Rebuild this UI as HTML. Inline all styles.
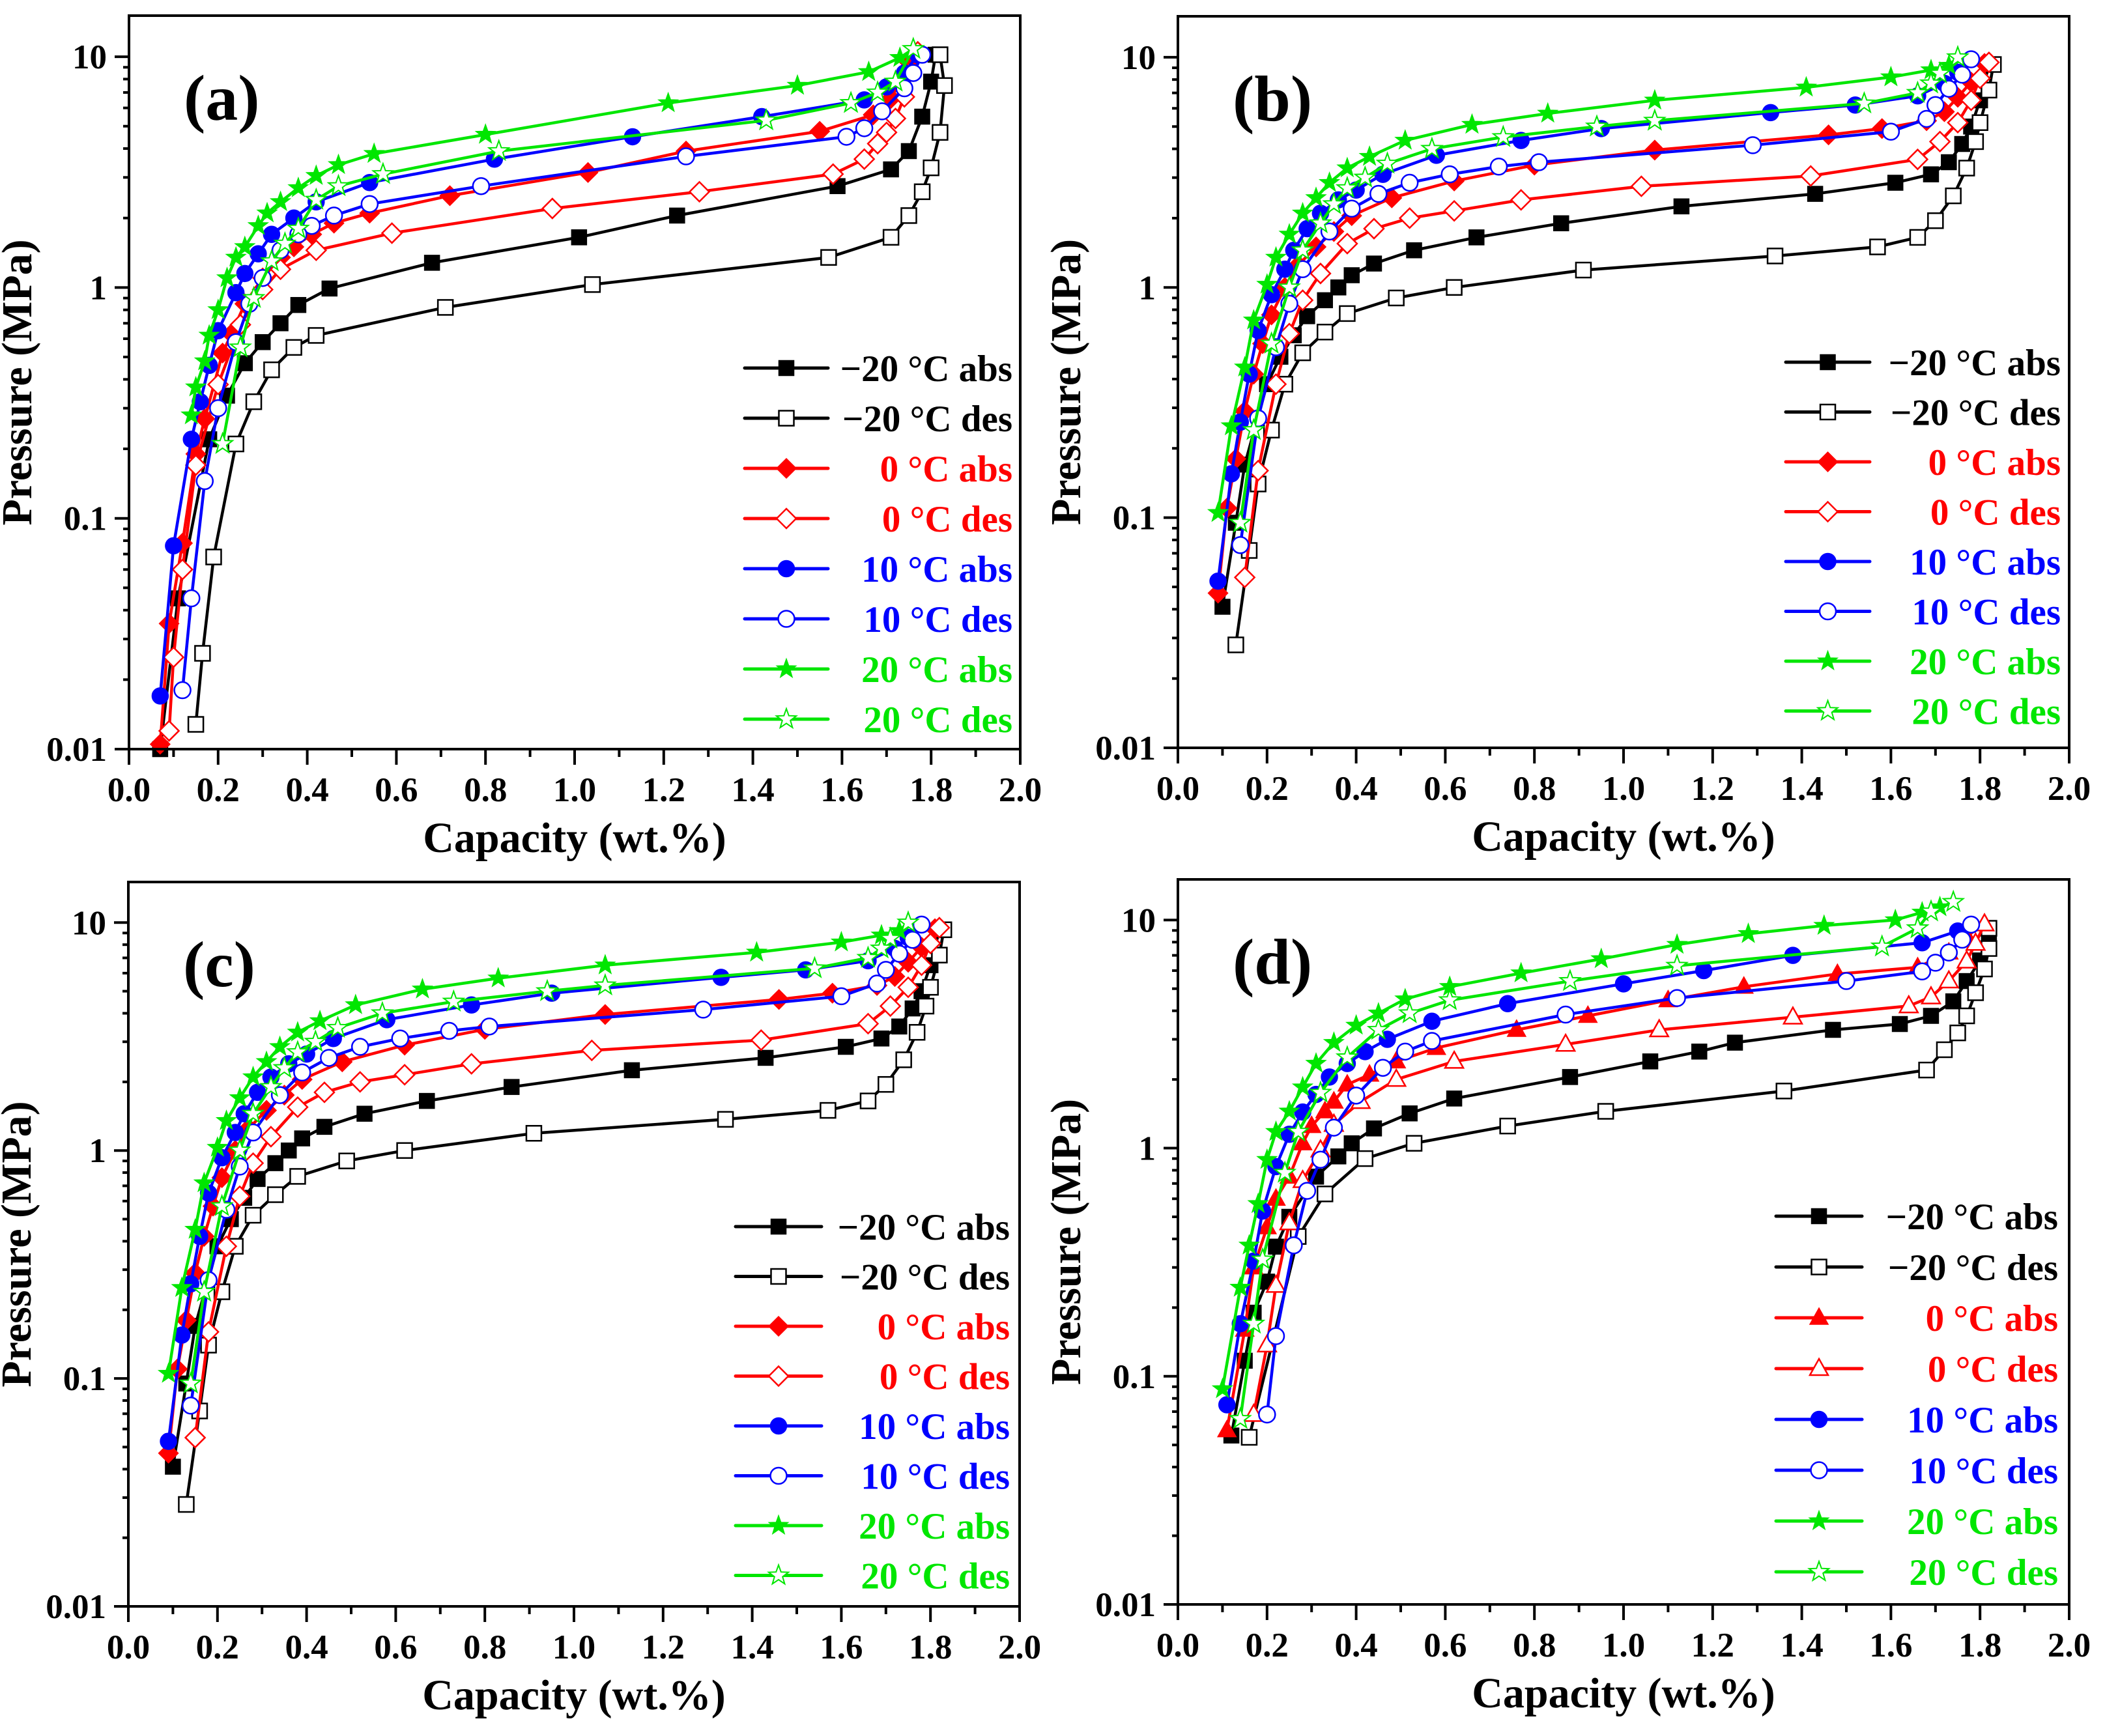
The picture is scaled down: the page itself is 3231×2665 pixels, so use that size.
<!DOCTYPE html>
<html><head><meta charset="utf-8"><style>
html,body{margin:0;padding:0;background:#fff;}
svg{display:block;font-family:"Liberation Serif","DejaVu Serif",serif;font-weight:bold;}
</style></head><body>
<svg id="fig" width="3231" height="2665" viewBox="0 0 3231 2665" xmlns="http://www.w3.org/2000/svg"></svg>
<script>
const xTicks=["0.0","0.2","0.4","0.6","0.8","1.0","1.2","1.4","1.6","1.8","2.0"];
const yTicks=["0.01","0.1","1","10"];
const seriesLabels=["\u221220 \u00b0C abs","\u221220 \u00b0C des","0 \u00b0C abs","0 \u00b0C des","10 \u00b0C abs","10 \u00b0C des","20 \u00b0C abs","20 \u00b0C des"];

// Panel (a)
const a_m20abs_x=[0.07,0.11,0.18,0.22,0.26,0.30,0.34,0.38,0.45,0.68,1.01,1.23,1.59,1.71,1.75,1.78,1.80,1.81];
const a_m20abs_p=[0.01,0.045,0.22,0.34,0.47,0.58,0.70,0.84,0.99,1.28,1.65,2.05,2.75,3.25,3.9,5.5,7.8,10.2];
const a_m20des_x=[1.82,1.83,1.82,1.80,1.78,1.75,1.71,1.57,1.04,0.71,0.42,0.37,0.32,0.28,0.24,0.19,0.165,0.15];
const a_m20des_p=[10.2,7.5,4.7,3.3,2.6,2.05,1.65,1.35,1.03,0.82,0.62,0.55,0.44,0.32,0.21,0.068,0.026,0.0128];
const a_0abs_x=[0.07,0.09,0.12,0.15,0.17,0.21,0.23,0.26,0.30,0.34,0.37,0.41,0.46,0.54,0.72,1.03,1.25,1.55,1.67,1.71,1.73,1.75,1.77];
const a_0abs_p=[0.0105,0.035,0.078,0.19,0.27,0.52,0.63,0.85,1.1,1.35,1.5,1.7,1.9,2.1,2.5,3.15,3.9,4.75,5.6,6.6,7.8,9.5,10.5];
const a_0des_x=[1.77,1.75,1.74,1.72,1.70,1.68,1.65,1.58,1.28,0.95,0.59,0.42,0.34,0.30,0.25,0.20,0.15,0.12,0.10,0.09];
const a_0des_p=[10.5,8.5,6.7,5.4,4.7,4.2,3.6,3.1,2.6,2.2,1.72,1.45,1.2,0.98,0.69,0.38,0.17,0.06,0.025,0.012];
const a_10abs_x=[0.07,0.10,0.14,0.16,0.18,0.20,0.24,0.26,0.29,0.32,0.37,0.42,0.54,0.82,1.13,1.42,1.65,1.70,1.74,1.77];
const a_10abs_p=[0.017,0.076,0.22,0.32,0.46,0.65,0.95,1.15,1.4,1.7,2.0,2.35,2.85,3.6,4.5,5.5,6.5,7.4,8.5,10.2];
const a_10des_x=[1.78,1.76,1.74,1.69,1.65,1.61,1.25,0.79,0.54,0.46,0.41,0.38,0.34,0.30,0.27,0.24,0.20,0.17,0.14,0.12];
const a_10des_p=[10.2,8.5,7.3,5.8,4.9,4.5,3.7,2.75,2.3,2.05,1.85,1.7,1.45,1.1,0.85,0.58,0.3,0.145,0.045,0.018];
const a_20abs_x=[0.14,0.15,0.17,0.18,0.20,0.22,0.24,0.26,0.29,0.31,0.34,0.38,0.42,0.47,0.55,0.80,1.21,1.50,1.66,1.73,1.76];
const a_20abs_p=[0.28,0.37,0.48,0.62,0.8,1.1,1.35,1.5,1.85,2.1,2.35,2.7,3.05,3.4,3.8,4.6,6.3,7.5,8.6,9.9,10.8];
const a_20des_x=[1.76,1.72,1.68,1.62,1.43,0.83,0.57,0.47,0.42,0.38,0.35,0.32,0.28,0.25,0.21];
const a_20des_p=[10.8,7.8,7.0,6.3,5.3,3.9,3.1,2.75,2.4,1.8,1.55,1.3,0.9,0.55,0.21];

// Panel (b)
const b_m20abs_x=[0.10,0.13,0.15,0.20,0.23,0.26,0.29,0.33,0.36,0.39,0.44,0.53,0.67,0.86,1.13,1.43,1.61,1.69,1.73,1.76,1.78,1.80,1.82];
const b_m20abs_p=[0.041,0.095,0.17,0.38,0.5,0.62,0.75,0.88,1.0,1.13,1.27,1.45,1.65,1.9,2.25,2.55,2.85,3.1,3.5,4.2,5.0,6.5,9.3];
const b_m20des_x=[1.83,1.82,1.80,1.79,1.77,1.74,1.70,1.66,1.57,1.34,0.91,0.62,0.49,0.38,0.33,0.28,0.24,0.21,0.18,0.16,0.13];
const b_m20des_p=[9.3,7.2,5.2,4.3,3.3,2.5,1.95,1.65,1.5,1.37,1.19,1.0,0.9,0.77,0.64,0.52,0.38,0.24,0.14,0.072,0.028];
const b_0abs_x=[0.09,0.11,0.13,0.15,0.17,0.19,0.21,0.24,0.27,0.31,0.35,0.39,0.48,0.62,0.80,1.07,1.46,1.58,1.68,1.72,1.75,1.78,1.81];
const b_0abs_p=[0.047,0.11,0.18,0.29,0.42,0.57,0.76,1.0,1.25,1.5,1.75,2.05,2.45,2.9,3.4,3.95,4.6,4.9,5.3,5.8,6.7,7.8,9.4];
const b_0des_x=[1.82,1.80,1.78,1.75,1.71,1.66,1.42,1.04,0.77,0.62,0.52,0.44,0.38,0.32,0.28,0.25,0.22,0.18,0.15];
const b_0des_p=[9.5,8.1,6.5,5.2,4.3,3.6,3.05,2.75,2.4,2.15,2.0,1.8,1.55,1.15,0.88,0.63,0.38,0.16,0.055];
const b_10abs_x=[0.09,0.12,0.14,0.16,0.18,0.21,0.24,0.26,0.29,0.32,0.36,0.40,0.46,0.58,0.77,0.95,1.33,1.52,1.66,1.72,1.75,1.78];
const b_10abs_p=[0.053,0.155,0.26,0.42,0.65,0.93,1.2,1.45,1.8,2.1,2.4,2.65,3.1,3.75,4.35,4.9,5.75,6.2,6.8,7.7,8.6,9.8];
const b_10des_x=[1.78,1.76,1.73,1.70,1.68,1.60,1.29,0.81,0.72,0.61,0.52,0.45,0.39,0.34,0.28,0.25,0.22,0.18,0.14];
const b_10des_p=[9.8,8.4,7.3,6.2,5.4,4.75,4.15,3.5,3.35,3.1,2.85,2.55,2.2,1.75,1.2,0.85,0.55,0.27,0.076];
const b_20abs_x=[0.09,0.12,0.15,0.17,0.20,0.22,0.25,0.28,0.31,0.34,0.38,0.43,0.51,0.66,0.83,1.07,1.41,1.60,1.69,1.73,1.75];
const b_20abs_p=[0.105,0.25,0.45,0.72,1.03,1.35,1.7,2.1,2.45,2.85,3.3,3.7,4.35,5.1,5.7,6.5,7.4,8.2,8.8,9.2,10.0];
const b_20des_x=[1.75,1.71,1.69,1.66,1.54,1.07,0.94,0.73,0.57,0.47,0.42,0.38,0.35,0.32,0.28,0.25,0.21,0.17,0.14];
const b_20des_p=[10.0,8.5,7.7,7.0,6.3,5.3,5.0,4.5,4.0,3.45,3.0,2.7,2.3,1.9,1.45,1.0,0.57,0.24,0.095];

// Panel (c)
const c_m20abs_x=[0.10,0.13,0.15,0.20,0.23,0.26,0.29,0.33,0.36,0.39,0.44,0.53,0.67,0.86,1.13,1.43,1.61,1.69,1.73,1.76,1.78,1.80,1.82];
const c_m20abs_p=[0.041,0.095,0.17,0.38,0.5,0.62,0.75,0.88,1.0,1.13,1.27,1.45,1.65,1.9,2.25,2.55,2.85,3.1,3.5,4.2,5.0,6.5,9.3];
const c_m20des_x=[1.83,1.82,1.80,1.79,1.77,1.74,1.70,1.66,1.57,1.34,0.91,0.62,0.49,0.38,0.33,0.28,0.24,0.21,0.18,0.16,0.13];
const c_m20des_p=[9.3,7.2,5.2,4.3,3.3,2.5,1.95,1.65,1.5,1.37,1.19,1.0,0.9,0.77,0.64,0.52,0.38,0.24,0.14,0.072,0.028];
const c_0abs_x=[0.09,0.11,0.13,0.15,0.17,0.19,0.21,0.24,0.27,0.31,0.35,0.39,0.48,0.62,0.80,1.07,1.46,1.58,1.68,1.72,1.75,1.78,1.81];
const c_0abs_p=[0.047,0.11,0.18,0.29,0.42,0.57,0.76,1.0,1.25,1.5,1.75,2.05,2.45,2.9,3.4,3.95,4.6,4.9,5.3,5.8,6.7,7.8,9.4];
const c_0des_x=[1.82,1.80,1.78,1.75,1.71,1.66,1.42,1.04,0.77,0.62,0.52,0.44,0.38,0.32,0.28,0.25,0.22,0.18,0.15];
const c_0des_p=[9.5,8.1,6.5,5.2,4.3,3.6,3.05,2.75,2.4,2.15,2.0,1.8,1.55,1.15,0.88,0.63,0.38,0.16,0.055];
const c_10abs_x=[0.09,0.12,0.14,0.16,0.18,0.21,0.24,0.26,0.29,0.32,0.36,0.40,0.46,0.58,0.77,0.95,1.33,1.52,1.66,1.72,1.75,1.78];
const c_10abs_p=[0.053,0.155,0.26,0.42,0.65,0.93,1.2,1.45,1.8,2.1,2.4,2.65,3.1,3.75,4.35,4.9,5.75,6.2,6.8,7.7,8.6,9.8];
const c_10des_x=[1.78,1.76,1.73,1.70,1.68,1.60,1.29,0.81,0.72,0.61,0.52,0.45,0.39,0.34,0.28,0.25,0.22,0.18,0.14];
const c_10des_p=[9.8,8.4,7.3,6.2,5.4,4.75,4.15,3.5,3.35,3.1,2.85,2.55,2.2,1.75,1.2,0.85,0.55,0.27,0.076];
const c_20abs_x=[0.09,0.12,0.15,0.17,0.20,0.22,0.25,0.28,0.31,0.34,0.38,0.43,0.51,0.66,0.83,1.07,1.41,1.60,1.69,1.73,1.75];
const c_20abs_p=[0.105,0.25,0.45,0.72,1.03,1.35,1.7,2.1,2.45,2.85,3.3,3.7,4.35,5.1,5.7,6.5,7.4,8.2,8.8,9.2,10.0];
const c_20des_x=[1.75,1.71,1.69,1.66,1.54,1.07,0.94,0.73,0.57,0.47,0.42,0.38,0.35,0.32,0.28,0.25,0.21,0.17,0.14];
const c_20des_p=[10.0,8.5,7.7,7.0,6.3,5.3,5.0,4.5,4.0,3.45,3.0,2.7,2.3,1.9,1.45,1.0,0.57,0.24,0.095];

// Panel (d)
const d_m20abs_x=[0.12,0.15,0.17,0.20,0.22,0.25,0.31,0.36,0.39,0.44,0.52,0.62,0.88,1.06,1.17,1.25,1.47,1.62,1.69,1.74,1.77,1.80,1.82];
const d_m20abs_p=[0.055,0.117,0.19,0.26,0.37,0.5,0.75,0.92,1.05,1.22,1.42,1.65,2.05,2.4,2.65,2.9,3.3,3.5,3.8,4.4,5.4,6.65,8.5];
const d_m20des_x=[1.82,1.82,1.81,1.79,1.77,1.75,1.72,1.68,1.36,0.96,0.74,0.53,0.42,0.33,0.27,0.16];
const d_m20des_p=[9.2,7.5,6.1,4.8,3.8,3.2,2.7,2.2,1.78,1.45,1.25,1.05,0.9,0.63,0.41,0.054];
const d_0abs_x=[0.11,0.15,0.17,0.20,0.22,0.25,0.28,0.30,0.33,0.35,0.38,0.43,0.49,0.58,0.76,0.92,1.10,1.27,1.48,1.66,1.73,1.77,1.81];
const d_0abs_p=[0.058,0.16,0.3,0.45,0.6,0.75,1.05,1.25,1.45,1.6,1.9,2.1,2.4,2.75,3.3,3.8,4.45,5.1,5.8,6.2,7.2,8.5,9.6];
const d_0des_x=[1.81,1.79,1.77,1.73,1.69,1.64,1.38,1.08,0.87,0.62,0.49,0.41,0.35,0.32,0.28,0.25,0.22,0.20,0.17];
const d_0des_p=[9.6,7.9,6.6,5.4,4.6,4.2,3.75,3.3,2.85,2.4,2.0,1.6,1.27,0.98,0.72,0.47,0.25,0.137,0.068];
const d_10abs_x=[0.11,0.14,0.17,0.19,0.22,0.25,0.28,0.31,0.34,0.38,0.42,0.47,0.57,0.74,1.00,1.18,1.38,1.67,1.75,1.78];
const d_10abs_p=[0.075,0.17,0.32,0.53,0.83,1.15,1.44,1.72,2.05,2.35,2.65,3.0,3.6,4.3,5.25,6.0,7.0,7.95,8.95,9.55];
const d_10des_x=[1.78,1.76,1.73,1.70,1.67,1.50,1.12,0.87,0.57,0.51,0.46,0.40,0.35,0.32,0.29,0.26,0.22,0.20];
const d_10des_p=[9.55,8.2,7.2,6.5,5.95,5.4,4.55,3.85,2.95,2.65,2.25,1.7,1.23,0.89,0.65,0.375,0.15,0.068];
const d_20abs_x=[0.10,0.14,0.16,0.18,0.20,0.22,0.25,0.28,0.31,0.35,0.40,0.45,0.51,0.61,0.77,0.95,1.12,1.28,1.45,1.61,1.67,1.71];
const d_20abs_p=[0.088,0.245,0.375,0.57,0.89,1.18,1.45,1.85,2.35,2.9,3.45,3.9,4.5,5.1,5.85,6.75,7.8,8.7,9.45,10.0,10.8,11.4];
const d_20des_x=[1.74,1.69,1.66,1.58,1.12,0.88,0.61,0.52,0.45,0.38,0.32,0.27,0.24,0.19,0.17,0.14];
const d_20des_p=[12.0,10.9,9.2,7.65,6.3,5.4,4.45,3.9,3.3,2.5,1.75,1.18,0.78,0.325,0.17,0.065];

const NS="http://www.w3.org/2000/svg";
const svg=document.getElementById('fig');
const COLORS=["#000","#000","#ff0000","#ff0000","#0000ff","#0000ff","#00e600","#00e600"];
function mk(tag,attrs,parent){const e=document.createElementNS(NS,tag);for(const k in attrs)e.setAttribute(k,attrs[k]);(parent||svg).appendChild(e);return e;}

function marker(g,shape,filled,color,cx,cy){
  const fill=filled?color:"#fff";const sw=filled?1.5:2.5;let el;
  if(shape==="sq"){el=mk('rect',{x:cx-11.5,y:cy-11.5,width:23,height:23,fill:fill,stroke:color,'stroke-width':sw},g);}
  else if(shape==="dia"){el=mk('polygon',{points:`${cx},${cy-15} ${cx+15},${cy} ${cx},${cy+15} ${cx-15},${cy}`,fill:fill,stroke:color,'stroke-width':sw},g);}
  else if(shape==="cir"){el=mk('circle',{cx:cx,cy:cy,r:12.5,fill:fill,stroke:color,'stroke-width':sw},g);}
  else if(shape==="tri"){el=mk('polygon',{points:`${cx},${cy-15} ${cx+14},${cy+10} ${cx-14},${cy+10}`,fill:fill,stroke:color,'stroke-width':sw},g);}
  else {let pts=[];for(let i=0;i<10;i++){const r=i%2?6.5:16;const a=-Math.PI/2+i*Math.PI/5;pts.push((cx+r*Math.cos(a)).toFixed(1)+","+(cy+r*Math.sin(a)).toFixed(1));}
    el=mk('polygon',{points:pts.join(" "),fill:fill,stroke:color,'stroke-width':filled?1:2},g);}
  return el;
}

function panel(p){
  const g=mk('g',{});
  
  
  const W=1368, L=p.L, T=p.T, B=p.B;
  const dec=(B-T)/3.178;
  const xs=v=>L+v/2.0*W;
  const ys=v=>B-(Math.log10(v)+2)*dec;
  // ticks
  const tg=mk('g',{stroke:'#000','stroke-width':4},g);
  
  
  for(let i=0;i<=20;i++){const x=L+i/20*W;mk('line',{x1:x,y1:B,x2:x,y2:B+(i%2?12:24)},tg);}
  for(let e=-2;e<=1;e++){for(let m=1;m<=9;m++){const v=m*Math.pow(10,e);if(Math.log10(v)>1.178)break;const y=ys(v);mk('line',{x1:L,y1:y,x2:L-(m===1?22:9),y2:y},tg);}}
  const xl=mk('g',{'font-size':53,'text-anchor':'middle'},g);
  
  
  xTicks.forEach((t,i)=>{const e=mk('text',{x:L+i/10*W,y:B+80},xl);e.textContent=t;});
  const yl=mk('g',{'font-size':53,'text-anchor':'end'},g);
  
  
  yTicks.forEach((t)=>{const e=mk('text',{x:L-34,y:ys(parseFloat(t))+18},yl);e.textContent=t;});
  const xt=mk('text',{x:L+W/2,y:B+158,'font-size':66,'text-anchor':'middle'},g);xt.textContent="Capacity (wt.%)";
  
  
  const yc=(T+B)/2, yx=L-150;
  const yt=mk('text',{x:yx,y:yc,'font-size':66,'text-anchor':'middle',transform:`rotate(-90 ${yx} ${yc})`},g);yt.textContent="Pressure (MPa)";
  
  
  const lb=mk('text',{x:L+84,y:T+160,'font-size':100},g);lb.textContent="("+p.id+")";
  
  
  // series
  const cg=mk('g',{},g);
  p.series.forEach((s,k)=>{
    const sg=mk('g',{},cg);
    
    
    const pts=s.x.map((v,i)=>xs(v).toFixed(1)+","+ys(s.p[i]).toFixed(1)).join(" ");
    mk('polyline',{points:pts,fill:'none',stroke:COLORS[k],'stroke-width':4.5,'stroke-linejoin':'round'},sg);
    s.x.forEach((v,i)=>{const m=marker(sg,p.shapes[k],k%2===0,COLORS[k],xs(v),ys(s.p[i]));
      
      });
  });
  // frame
  const fr=mk('rect',{x:L,y:T,width:W,height:B-T,fill:'none',stroke:'#000','stroke-width':4},g);
  
  
  // legend
  const lg=mk('g',{},g);
  
  
  seriesLabels.forEach((t,k)=>{
    const y=p.legY+k*p.legDy;
    const eg=mk('g',{},lg);
    
    
    mk('line',{x1:p.legX1,y1:y,x2:p.legX2,y2:y,stroke:COLORS[k],'stroke-width':5,'stroke-linecap':'round'},eg);
    marker(eg,p.shapes[k],k%2===0,COLORS[k],(p.legX1+p.legX2)/2,y);
    const e=mk('text',{x:p.legTX,y:y+20,'font-size':57,'text-anchor':'end',fill:COLORS[k]},eg);e.textContent=t;
  });
}
const S1=["sq","sq","dia","dia","cir","cir","star","star"];
const S2=["sq","sq","tri","tri","cir","cir","star","star"];
function ser(pre){return [[pre.m20abs_x,pre.m20abs_p]];}
panel({id:'a',L:198,T:24,B:1150,shapes:S1,legX1:1143,legX2:1271,legY:565,legDy:77,legTX:1554,
  series:[{x:a_m20abs_x,p:a_m20abs_p},{x:a_m20des_x,p:a_m20des_p},{x:a_0abs_x,p:a_0abs_p},{x:a_0des_x,p:a_0des_p},{x:a_10abs_x,p:a_10abs_p},{x:a_10des_x,p:a_10des_p},{x:a_20abs_x,p:a_20abs_p},{x:a_20des_x,p:a_20des_p}]});
panel({id:'b',L:1808,T:25,B:1148,shapes:S1,legX1:2741,legX2:2870,legY:556,legDy:76.5,legTX:3163,
  series:[{x:b_m20abs_x,p:b_m20abs_p},{x:b_m20des_x,p:b_m20des_p},{x:b_0abs_x,p:b_0abs_p},{x:b_0des_x,p:b_0des_p},{x:b_10abs_x,p:b_10abs_p},{x:b_10des_x,p:b_10des_p},{x:b_20abs_x,p:b_20abs_p},{x:b_20des_x,p:b_20des_p}]});
panel({id:'c',L:197,T:1354,B:2466,shapes:S1,legX1:1129,legX2:1261,legY:1883,legDy:76.5,legTX:1550,
  series:[{x:c_m20abs_x,p:c_m20abs_p},{x:c_m20des_x,p:c_m20des_p},{x:c_0abs_x,p:c_0abs_p},{x:c_0des_x,p:c_0des_p},{x:c_10abs_x,p:c_10abs_p},{x:c_10des_x,p:c_10des_p},{x:c_20abs_x,p:c_20abs_p},{x:c_20des_x,p:c_20des_p}]});
panel({id:'d',L:1808,T:1350,B:2463,shapes:S2,legX1:2726,legX2:2858,legY:1867,legDy:78,legTX:3159,
  series:[{x:d_m20abs_x,p:d_m20abs_p},{x:d_m20des_x,p:d_m20des_p},{x:d_0abs_x,p:d_0abs_p},{x:d_0des_x,p:d_0des_p},{x:d_10abs_x,p:d_10abs_p},{x:d_10des_x,p:d_10des_p},{x:d_20abs_x,p:d_20abs_p},{x:d_20des_x,p:d_20des_p}]});
</script>
</body></html>
